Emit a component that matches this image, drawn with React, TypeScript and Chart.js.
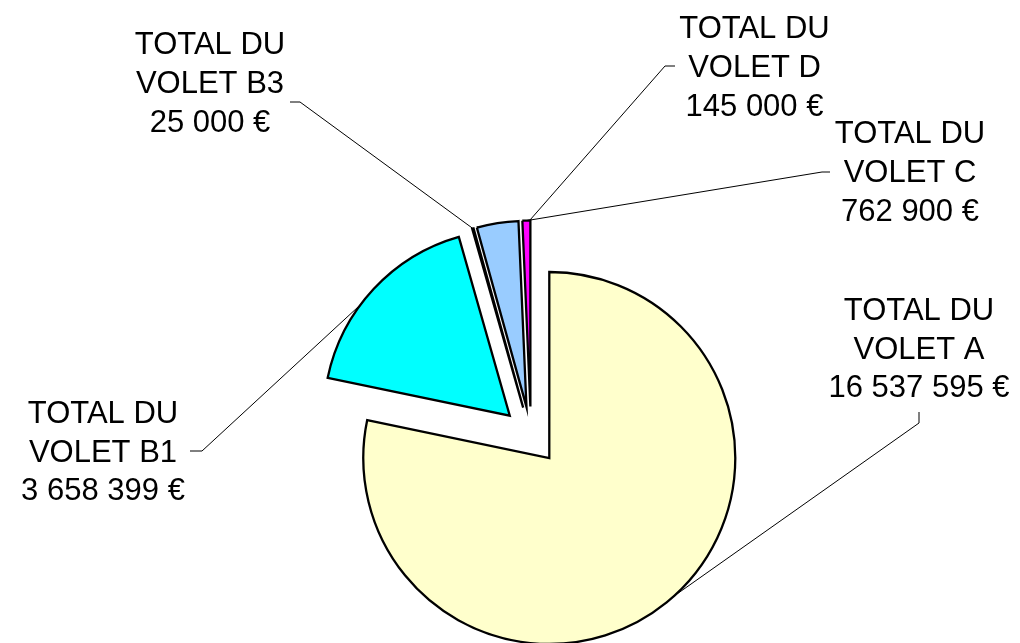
import React, { useEffect, useRef } from "react";
import { Chart, registerables } from "chart.js";

Chart.register(...registerables);

// ---- data ----
const categories = ["VOLET A", "VOLET B1", "VOLET B3", "VOLET C", "VOLET D"];
const values = [16537595, 3658399, 25000, 762900, 145000];
const sliceColors = ["#FFFFCC", "#00FFFF", "#669999", "#99CCFF", "#FF00FF"];

// ---- layout (label placement, leader ticks) ----
// text block centre (x, y of middle line), tick [x1,y1,x2,y2] (x2,y2 joins the leader),
// leader target: slice index and fraction along its arc
const labelCenters = [
  [919, 347.5],
  [103, 450.5],
  [210, 82],
  [910, 171],
  [754.5, 66],
];
const labelTicks = [
  [919, 412, 919, 423],
  [190, 451, 202, 451],
  [290, 102, 300, 102],
  [830, 172, 822, 172],
  [675, 66, 665, 66],
];
const leaderTargets = [
  [0, 0.49],
  [1, 0.4],
  [2, 0.5],
  [4, 0.6],
  [4, 0.9],
];
const EXPLODE = 29;
const RADIUS = 186;
const FONT_SIZE = 31;
const LINE_GAP = 38.7;

function fmt(v: number): string {
  return v.toString().replace(/\B(?=(\d{3})+(?!\d))/g, " ") + " €";
}

const explodePlugin = {
  id: "explodeSlices",
  beforeDatasetDraw(chart: any, args: any) {
    const ctx = chart.ctx;
    const meta = args.meta;
    meta.data.forEach((el: any) => {
      const mid = (el.startAngle + el.endAngle) / 2;
      ctx.save();
      ctx.translate(Math.cos(mid) * EXPLODE, Math.sin(mid) * EXPLODE);
      el.draw(ctx);
      ctx.restore();
    });
    return false;
  },
};

const labelPlugin = {
  id: "sliceLabels",
  afterDraw(chart: any) {
    const ctx = chart.ctx;
    const meta = chart.getDatasetMeta(0);
    ctx.save();
    // leader lines
    ctx.strokeStyle = "#000";
    ctx.lineWidth = 1;
    categories.forEach((_, i) => {
      const [si, frac] = leaderTargets[i];
      const el: any = meta.data[si];
      const mid = (el.startAngle + el.endAngle) / 2;
      const ang = el.startAngle + (el.endAngle - el.startAngle) * frac;
      const cx = el.x + Math.cos(mid) * EXPLODE;
      const cy = el.y + Math.sin(mid) * EXPLODE;
      const tx = cx + Math.cos(ang) * el.outerRadius;
      const ty = cy + Math.sin(ang) * el.outerRadius;
      const t = labelTicks[i];
      ctx.beginPath();
      ctx.moveTo(t[0], t[1]);
      ctx.lineTo(t[2], t[3]);
      ctx.lineTo(tx, ty);
      ctx.stroke();
    });
    // text
    ctx.fillStyle = "#000";
    ctx.font = `${FONT_SIZE}px "Liberation Sans", Arial, sans-serif`;
    ctx.textAlign = "center";
    ctx.textBaseline = "alphabetic";
    categories.forEach((c, i) => {
      const lines = ["TOTAL DU", c, fmt(values[i])];
      const [x, y] = labelCenters[i];
      lines.forEach((ln, k) => {
        const capMid = y + (k - 1) * LINE_GAP;
        ctx.fillText(ln, x, capMid + FONT_SIZE * 0.358);
      });
    });
    ctx.restore();
  },
};

export default function App() {
  const ref = useRef<HTMLCanvasElement | null>(null);
  useEffect(() => {
    if (!ref.current) return;
    const chart = new Chart(ref.current, {
      type: "pie",
      data: {
        labels: categories,
        datasets: [
          {
            data: values,
            backgroundColor: sliceColors,
            borderColor: "#000",
            borderWidth: 2.3,
            borderJoinStyle: "miter",
            radius: RADIUS,
            hoverOffset: 0,
            offset: 0,
            clip: false,
          } as any,
        ],
      },
      options: {
        animation: false,
        responsive: false,
        maintainAspectRatio: false,
        events: [],
        layout: { padding: { left: 42, right: 0, top: 228, bottom: 0 } },
        plugins: {
          legend: { display: false },
          tooltip: { enabled: false },
          title: { display: false },
        },
      } as any,
      plugins: [explodePlugin, labelPlugin],
    });
    return () => chart.destroy();
  }, []);
  return (
    <div style={{ position: "absolute", left: 0, top: 0, width: 1020, height: 643, background: "#fff" }}>
      <canvas ref={ref} width={1020} height={643} style={{ width: 1020, height: 643, display: "block" }} />
    </div>
  );
}
